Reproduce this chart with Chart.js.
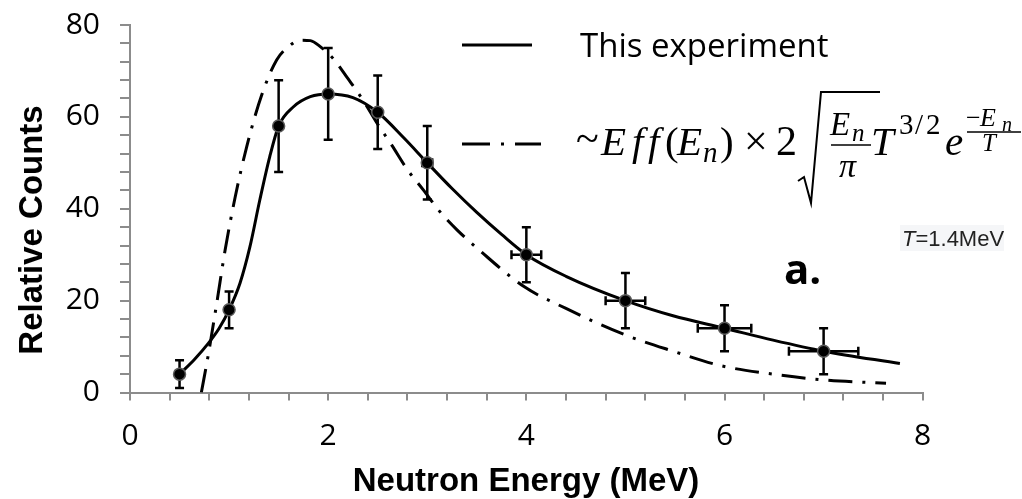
<!DOCTYPE html>
<html>
<head>
<meta charset="utf-8">
<script src="https://cdn.jsdelivr.net/npm/chart.js@4.4.1/dist/chart.umd.min.js"></script>
<style>
  html, body { margin: 0; padding: 0; background: #fff; }
  canvas { display: block; }
</style>
</head>
<body>
<canvas id="spectrum" width="1022" height="499"></canvas>
<script>
// Measured neutron spectrum: energy (MeV), relative counts and their uncertainties
const energies  = [0.5, 1, 1.5, 2, 2.5, 3, 4, 5, 6, 7];
const counts    = [4, 18, 58, 65, 61, 50, 30, 20, 14, 9];
const countErr  = [3, 4, 10, 10, 8, 8, 6, 6, 5, 5];
const energyErr = [0, 0, 0, 0, 0.03, 0.05, 0.15, 0.2, 0.27, 0.35];

// Smooth curve through the measurement ("This experiment")
const fitEnergy = [0.5, 0.65, 0.79, 0.9, 1.0, 1.11, 1.21, 1.31, 1.41, 1.5, 1.65, 1.82, 2.0, 2.25, 2.5, 2.76, 3.0, 3.25, 3.5, 3.75, 4.0, 4.4, 5.0, 5.48, 6.0, 6.49, 7.0, 7.77];
const fitCounts = [4, 7.2, 10.7, 14, 18, 23.8, 31.7, 41.9, 51.3, 58, 62.2, 64.4, 65, 64.2, 61, 55.5, 50, 44.4, 39.2, 34.4, 30, 25.3, 20, 16.7, 14, 11.4, 9, 6.3];

// Efficiency-weighted Maxwellian, T = 1.4 MeV
const maxwellEnergy = [0.72, 0.79, 0.875, 0.96, 1.06, 1.18, 1.33, 1.48, 1.6, 1.72, 1.82, 1.92, 2.05, 2.2, 2.35, 2.5, 2.64, 2.8, 2.96, 3.13, 3.3, 3.53, 3.98, 4.4, 4.99, 5.48, 5.97, 6.49, 7.02, 7.63];
const maxwellCounts = [0, 8.2, 19.4, 31, 42.4, 53.7, 64.8, 72.4, 75.3, 76.7, 76.6, 75.3, 72.7, 68.3, 63.7, 58.4, 53.9, 48.5, 44.1, 39.3, 35.4, 30.9, 23.0, 18.3, 12.6, 9.0, 5.8, 4.0, 2.7, 2.0];

// Labelled ticks (minor ticks sit between them)
const xTickLabels = [0, 2, 4, 6, 8];
const yTickLabels = [0, 20, 40, 60, 80];

const AXIS_GREY = '#8c8c8c';
const DASH_DOT = [24, 10, 3, 10];

const pairs = (xs, ys) => xs.map((v, i) => ({ x: v, y: ys[i] }));
const isLabelled = (list, v) => list.some(t => Math.abs(t - v) < 1e-6);

// Error bars are painted just before the marker dataset, so markers sit on top
const errorBars = {
  id: 'errorBars',
  beforeDatasetDraw(chart, args) {
    if (args.index !== 0) return;
    const { ctx, scales: { x, y } } = chart;
    const cap = 4.5;
    ctx.save();
    ctx.strokeStyle = '#000';
    ctx.lineWidth = 2.5;
    energies.forEach((e, i) => {
      const px = x.getPixelForValue(e);
      const py = y.getPixelForValue(counts[i]);
      const top = y.getPixelForValue(counts[i] + countErr[i]);
      const bot = y.getPixelForValue(counts[i] - countErr[i]);
      ctx.beginPath();
      ctx.moveTo(px, top); ctx.lineTo(px, bot);
      ctx.moveTo(px - cap, top); ctx.lineTo(px + cap, top);
      ctx.moveTo(px - cap, bot); ctx.lineTo(px + cap, bot);
      if (energyErr[i] > 0) {
        const l = x.getPixelForValue(e - energyErr[i]);
        const r = x.getPixelForValue(e + energyErr[i]);
        ctx.moveTo(l, py); ctx.lineTo(r, py);
        ctx.moveTo(l, py - cap); ctx.lineTo(l, py + cap);
        ctx.moveTo(r, py - cap); ctx.lineTo(r, py + cap);
      }
      ctx.stroke();
    });
    ctx.restore();
  }
};

// Legend, formula, annotations and axis titles
const annotations = {
  id: 'annotations',
  afterDraw(chart) {
    const ctx = chart.ctx;
    ctx.save();
    ctx.fillStyle = '#000';
    ctx.strokeStyle = '#000';
    ctx.textBaseline = 'alphabetic';
    ctx.textAlign = 'left';

    const put = (str, x, y, font) => { ctx.font = font; ctx.fillText(str, x, y); };
    const serif = '"Liberation Serif", "DejaVu Serif", serif';
    const it = s => 'italic ' + s + 'px ' + serif;
    const up = s => s + 'px ' + serif;

    // legend entry 1: solid line
    ctx.lineWidth = 3;
    ctx.beginPath(); ctx.moveTo(462, 45); ctx.lineTo(532, 45); ctx.stroke();
    put('This experiment', 580, 57, '33px "Open Sans", sans-serif');

    // legend entry 2: dash-dot line
    ctx.setLineDash([28, 11, 3, 11]);
    ctx.beginPath(); ctx.moveTo(462, 144); ctx.lineTo(541, 144); ctx.stroke();
    ctx.setLineDash([]);

    // ~Eff(E_n) x 2 sqrt(E_n/pi) T^{3/2} e^{-E_n/T}
    put('~', 576, 152, up(42));
    put('E', 601, 155, it(41));
    put('f', 632, 155, it(41));
    put('f', 648, 155, it(41));
    put('(', 665, 155, up(41));
    put('E', 677, 155, it(41));
    put('n', 703, 162, it(29));
    put(')', 720, 155, up(41));
    put('\u00d7', 744, 155, up(42));
    put('2', 776, 155, up(42));

    // radical sign
    ctx.lineWidth = 2;
    ctx.beginPath();
    ctx.moveTo(798, 181); ctx.lineTo(804, 177);
    ctx.lineTo(811, 203); ctx.lineTo(821, 92); ctx.lineTo(880, 92);
    ctx.stroke();

    put('E', 830, 135, it(33));
    put('n', 852, 141, it(25));
    ctx.lineWidth = 1.6;
    ctx.beginPath(); ctx.moveTo(831, 145); ctx.lineTo(871, 145); ctx.stroke();
    put('\u03c0', 839, 177, it(34));

    put('T', 871, 155, it(41));
    put('3', 899, 134, up(29));
    put('/', 915, 134, up(29));
    put('2', 926, 134, up(29));
    put('e', 945, 155, it(41));
    put('\u2212', 966, 126, up(26));
    put('E', 980, 126, it(26));
    put('n', 1002, 131, it(20));
    ctx.lineWidth = 1.3;
    ctx.beginPath(); ctx.moveTo(967, 132); ctx.lineTo(1021, 132); ctx.stroke();
    put('T', 982, 151, it(25));

    // temperature note
    ctx.fillStyle = '#f5f6f8';
    ctx.fillRect(900, 225, 104, 26);
    ctx.fillStyle = '#222';
    put('T', 902, 246, 'italic 22px "Liberation Sans", Arial, sans-serif');
    ctx.font = 'italic 22px "Liberation Sans", Arial, sans-serif';
    const tw = ctx.measureText('T').width;
    put('=1.4MeV', 902 + tw, 246, '22px "Liberation Sans", Arial, sans-serif');

    // panel tag
    ctx.fillStyle = '#000';
    put('a.', 784, 284, 'bold 42px "Open Sans", sans-serif');

    // axis titles
    ctx.textAlign = 'center';
    put('Neutron Energy (MeV)', 526, 491, 'bold 33px "Liberation Sans", Arial, sans-serif');
    ctx.translate(42, 230);
    ctx.rotate(-Math.PI / 2);
    put('Relative Counts', 0, 0, 'bold 33px "Liberation Sans", Arial, sans-serif');
    ctx.restore();
  }
};

const tickFont = { family: '"Open Sans", sans-serif', size: 30 };

new Chart(document.getElementById('spectrum'), {
  type: 'scatter',
  data: {
    datasets: [
      {
        label: 'data',
        data: pairs(energies, counts),
        showLine: false,
        pointRadius: 6,
        pointHoverRadius: 6,
        pointBackgroundColor: '#000',
        pointBorderColor: '#5a5a5a',
        pointBorderWidth: 1.5
      },
      {
        label: 'This experiment',
        data: pairs(fitEnergy, fitCounts),
        showLine: true,
        pointRadius: 0,
        borderColor: '#000',
        borderWidth: 3,
        cubicInterpolationMode: 'monotone'
      },
      {
        label: 'Maxwellian',
        data: pairs(maxwellEnergy, maxwellCounts),
        showLine: true,
        pointRadius: 0,
        borderColor: '#000',
        borderWidth: 3,
        borderDash: DASH_DOT,
        cubicInterpolationMode: 'monotone'
      }
    ]
  },
  options: {
    responsive: false,
    animation: false,
    devicePixelRatio: 1,
    layout: { padding: { top: 25, right: 99.3, left: 0, bottom: 0 } },
    plugins: { legend: { display: false }, tooltip: { enabled: false } },
    scales: {
      x: {
        type: 'linear',
        min: 0, max: 8,
        afterFit: s => { s.height = 106.5; },
        ticks: {
          stepSize: 0.4,
          autoSkip: false,
          maxRotation: 0,
          padding: 18,
          color: '#000',
          font: tickFont,
          callback: v => isLabelled(xTickLabels, v) ? String(Math.round(v)) : ''
        },
        grid: { drawOnChartArea: false, drawTicks: true, tickLength: 8, color: AXIS_GREY, lineWidth: 2 },
        border: { color: AXIS_GREY, width: 2 }
      },
      y: {
        min: 0, max: 80,
        // fixed gutter; the outer layout padding alone sets the plot's top edge
        afterFit: s => { s.width = 130; s.paddingTop = 0; s.paddingBottom = 0; },
        ticks: {
          stepSize: 4,
          autoSkip: false,
          padding: 20,
          color: '#000',
          font: tickFont,
          callback: v => isLabelled(yTickLabels, v) ? String(Math.round(v)) : ''
        },
        grid: { drawOnChartArea: false, drawTicks: true, tickLength: 10, color: AXIS_GREY, lineWidth: 2 },
        border: { color: AXIS_GREY, width: 2 }
      }
    }
  },
  plugins: [errorBars, annotations]
});
</script>
</body>
</html>
